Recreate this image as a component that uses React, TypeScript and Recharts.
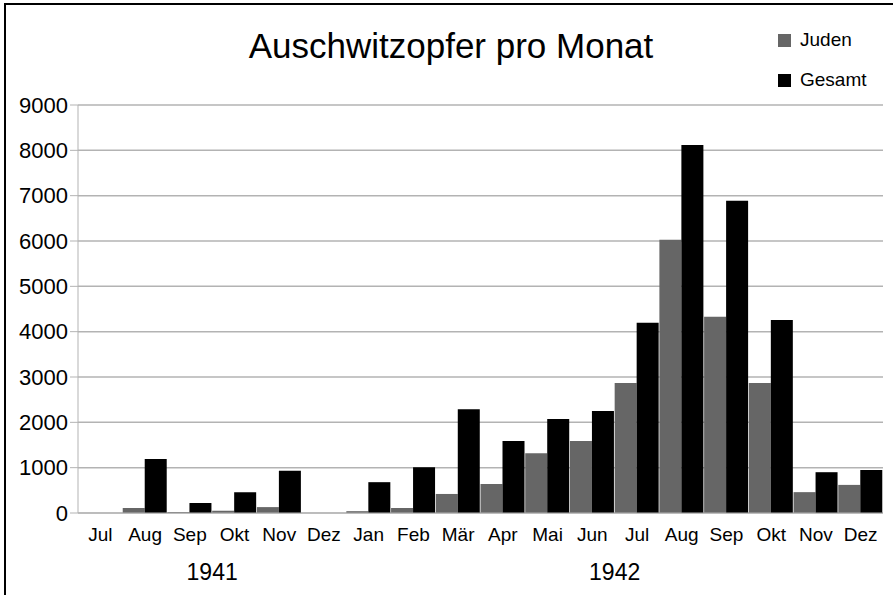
import { BarChart, Bar, XAxis, YAxis, CartesianGrid } from 'recharts';

const months1941 = ['Jul', 'Aug', 'Sep', 'Okt', 'Nov', 'Dez'];
const months1942 = ['Jan', 'Feb', 'Mär', 'Apr', 'Mai', 'Jun', 'Jul', 'Aug', 'Sep', 'Okt', 'Nov', 'Dez'];
const years = ['1941', '1942'];

// Juden / Gesamt, Jul 1941 .. Dez 1942
const juden = [0, 110, 20, 50, 130, 0, 40, 110, 420, 640, 1320, 1590, 2870, 6030, 4330, 2870, 460, 620];
const gesamt = [0, 1190, 220, 460, 930, 0, 680, 1010, 2290, 1590, 2075, 2250, 4195, 8120, 6890, 4260, 900, 950];

const yTicks = [0, 1000, 2000, 3000, 4000, 5000, 6000, 7000, 8000, 9000];

const series = [
  { key: 'juden', name: 'Juden', color: '#666666' },
  { key: 'gesamt', name: 'Gesamt', color: '#000000' },
];

const FONT = '"Liberation Sans", Arial, sans-serif';

const monthsByYear = [months1941, months1942];
const data = monthsByYear
  .flatMap((ms, yi) => ms.map((m) => ({ key: `${m} ${years[yi]}`, month: m })))
  .map((d, i) => ({ ...d, idx: i, juden: juden[i], gesamt: gesamt[i] }));

// center of each year group, in category units
const yearCenters: number[] = [];
let start = 0;
monthsByYear.forEach((ms) => {
  yearCenters.push(start + ms.length / 2);
  start += ms.length;
});

export default function App() {
  return (
    <div
      style={{
        position: 'absolute',
        left: 0,
        top: 0,
        width: 893,
        height: 595,
        background: '#fff',
        overflow: 'hidden',
      }}
    >
      <div
        style={{
          position: 'absolute',
          left: 4,
          top: 3,
          right: 0,
          bottom: 0,
          borderTop: '2px solid #000',
          borderLeft: '2px solid #000',
          pointerEvents: 'none',
          zIndex: 2,
        }}
      />
      <div
        style={{
          position: 'absolute',
          left: 0,
          width: 902,
          top: 26,
          textAlign: 'center',
          fontFamily: FONT,
          fontSize: 35,
          color: '#000',
        }}
      >
        Auschwitzopfer pro Monat
      </div>
      <div style={{ position: 'absolute', left: 778, top: 29, fontFamily: FONT, fontSize: 19, color: '#000' }}>
        {series.map((s, i) => (
          <div
            key={s.key}
            style={{ display: 'flex', alignItems: 'center', height: 22, marginBottom: i === 0 ? 18 : 0 }}
          >
            <span style={{ width: 13, height: 13, background: s.color, marginRight: 9, display: 'inline-block' }} />
            <span>{s.name}</span>
          </div>
        ))}
      </div>
      <BarChart
        width={893}
        height={595}
        data={data}
        margin={{ top: 105, right: 10, left: 0, bottom: 0 }}
        barCategoryGap={0}
        barGap={0}
      >
        <CartesianGrid vertical={false} stroke="#b3b3b3" strokeWidth={1.5} />
        <XAxis
          xAxisId="cat"
          dataKey="key"
          height={40}
          tickLine={false}
          tickSize={0}
          tickMargin={15}
          stroke="#b3b3b3"
          interval={0}
          tickFormatter={(v: string) => v.split(' ')[0]}
          tick={{ fill: '#000', fontSize: 19, fontFamily: FONT }}
        />
        <XAxis
          xAxisId="year"
          dataKey="idx"
          type="number"
          domain={[0, data.length]}
          allowDataOverflow
          ticks={yearCenters}
          tickFormatter={(v: number) => years[yearCenters.indexOf(v)] ?? ''}
          height={42}
          axisLine={false}
          tickLine={false}
          tickSize={0}
          tickMargin={11}
          tick={{ fill: '#000', fontSize: 23, fontFamily: FONT }}
        />
        <YAxis
          width={78}
          domain={[0, 9000]}
          ticks={yTicks}
          interval={0}
          stroke="#b3b3b3"
          tickSize={8}
          tickMargin={2}
          tick={{ fill: '#000', fontSize: 22, fontFamily: FONT }}
        />
        {series.map((s) => (
          <Bar
            key={s.key}
            xAxisId="cat"
            dataKey={s.key}
            name={s.name}
            fill={s.color}
            isAnimationActive={false}
          />
        ))}
      </BarChart>
    </div>
  );
}
